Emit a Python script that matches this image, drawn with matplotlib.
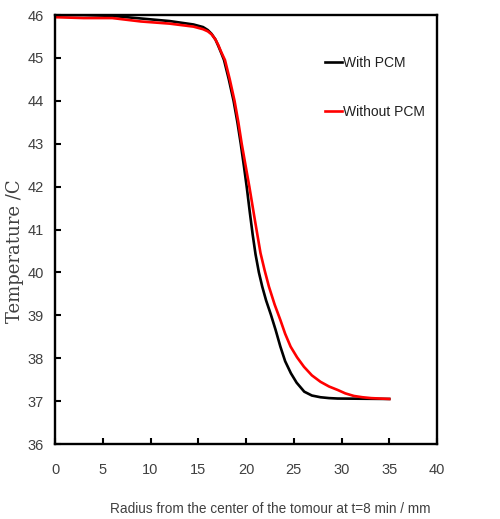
import numpy as np
import matplotlib
matplotlib.use('Agg')
import matplotlib.pyplot as plt

# values
r_pcm = [0, 3, 6, 9, 12, 14.5, 15.5, 16.0, 16.4, 16.8, 17.1, 17.4, 17.7, 18.2, 18.7,
         19.1, 19.45, 19.8, 20.1, 20.4, 20.7, 21.0, 21.35, 21.7, 22.1, 22.6, 23.1, 23.6,
         24.1, 24.7, 25.3, 26.1, 26.9, 27.8, 28.7, 29.6, 35]
t_pcm = [46.0, 46.0, 45.98, 45.92, 45.86, 45.78, 45.72, 45.65, 45.56, 45.43, 45.28,
         45.12, 44.95, 44.5, 44.0, 43.5, 43.0, 42.45, 41.95, 41.4, 40.88, 40.42, 40.0,
         39.67, 39.35, 39.02, 38.66, 38.27, 37.93, 37.65, 37.43, 37.22, 37.13, 37.09,
         37.07, 37.06, 37.05]

r_nopcm = [0, 3, 6, 9, 12, 14.5, 15.5, 16.0, 16.4, 16.8, 17.1, 17.4, 17.8, 18.3, 18.8,
           19.2, 19.55, 19.95, 20.35, 20.93, 21.52, 21.95, 22.4, 23.0, 23.6, 24.1, 24.67,
           25.35, 26.07, 26.9, 27.8, 28.7, 29.6, 30.4, 31.3, 32.2, 33.1, 34.0, 35]
t_nopcm = [45.95, 45.93, 45.93, 45.85, 45.8, 45.73, 45.67, 45.62, 45.55, 45.43, 45.3,
           45.14, 44.95, 44.5, 44.0, 43.5, 43.0, 42.5, 42.0, 41.22, 40.45, 40.05, 39.67,
           39.25, 38.89, 38.57, 38.27, 38.02, 37.8, 37.6, 37.45, 37.34, 37.26, 37.18,
           37.12, 37.09, 37.07, 37.06, 37.05]

xticks = [0, 5, 10, 15, 20, 25, 30, 35, 40]
yticks = [36, 37, 38, 39, 40, 41, 42, 43, 44, 45, 46]

sans = ['Liberation Sans', 'DejaVu Sans']
gray = '#404040'

fig = plt.figure(figsize=(5, 5.19), dpi=100)
ax = fig.add_axes([0.11, 0.1445, 0.764, 0.8265])

ax.plot(r_pcm, t_pcm, color='black', lw=1.9, label='With PCM', solid_joinstyle='round')
ax.plot(r_nopcm, t_nopcm, color='red', lw=1.9, label='Without PCM',
        solid_joinstyle='round')

ax.set_xlim(0, 40)
ax.set_ylim(36, 46)
ax.set_xticks(xticks)
ax.set_yticks(yticks)
for s in ax.spines.values():
    s.set_linewidth(1.7)
ax.tick_params(direction='in', length=4, width=1.5, labelsize=10.5, colors='black',
               labelcolor=gray)
ax.tick_params(axis='x', pad=14)
ax.tick_params(axis='y', pad=8)
for lab in ax.get_xticklabels() + ax.get_yticklabels():
    lab.set_family(sans)

ax.set_xlabel('Radius from the center of the tomour at t=8 min / mm', family=sans,
              fontsize=9.8, color=gray)
ax.xaxis.set_label_coords(0.563, -0.135)
ax.set_ylabel('Temperature /C', family=['DejaVu Serif'], fontsize=13, color=gray)
ax.yaxis.set_label_coords(-0.08, 0.45)

leg = ax.legend(loc='upper left', bbox_to_anchor=(0.706, 0.905), frameon=False,
                handlelength=1.25, handletextpad=0.1, labelspacing=2.55,
                borderaxespad=0, borderpad=0,
                prop={'family': sans, 'size': 10})
for t in leg.get_texts():
    t.set_color('#202020')

fig.savefig('out.png', dpi=100)
